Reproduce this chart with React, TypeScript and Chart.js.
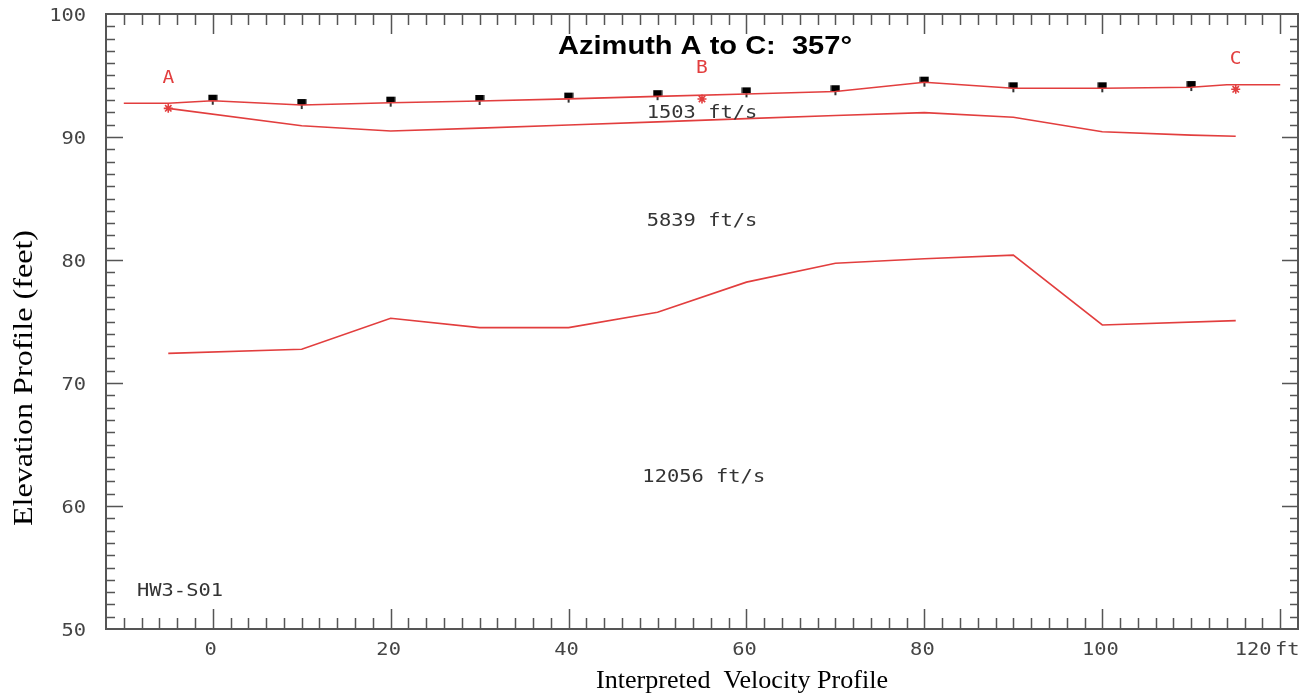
import React, { useEffect, useRef } from 'react';
import { Chart, registerables } from 'chart.js';

Chart.register(...registerables);

// ---------- axes ----------
const X_MIN = -12;
const X_MAX = 122;
const Y_MIN = 50;
const Y_MAX = 100;
const X_TICK_VALUES = [0, 20, 40, 60, 80, 100, 120];
const X_TICK_LABELS = ['0', '20', '40', '60', '80', '100', '120'];
const Y_TICK_VALUES = [50, 60, 70, 80, 90, 100];
const Y_TICK_LABELS = ['50', '60', '70', '80', '90', '100'];
const X_UNIT = 'ft';

// ---------- series ----------
// ground surface
const SURFACE_X = [-10, -5, 0, 10, 20, 30, 40, 50, 60, 70, 80, 90, 100, 110, 114, 120];
const SURFACE_Y = [92.74, 92.74, 92.95, 92.6, 92.79, 92.93, 93.1, 93.3, 93.5, 93.7, 94.45, 93.96, 93.96, 94.04, 94.25, 94.25];

// first refractor (1503 / 5839 ft/s boundary)
const REFR1_X = [-5, 10, 20, 30, 40, 50, 60, 70, 80, 90, 100, 110, 115];
const REFR1_Y = [92.33, 90.92, 90.49, 90.72, 90.98, 91.23, 91.49, 91.75, 91.98, 91.6, 90.43, 90.15, 90.06];

// second refractor (5839 / 12056 ft/s boundary)
const REFR2_X = [-5, 10, 20, 30, 40, 50, 60, 70, 80, 90, 100, 115];
const REFR2_Y = [72.41, 72.74, 75.26, 74.5, 74.5, 75.75, 78.2, 79.73, 80.1, 80.4, 74.72, 75.07];

// geophones
const GEOPHONE_X = [0, 10, 20, 30, 40, 50, 60, 70, 80, 90, 100, 110];
const GEOPHONE_Y = [92.95, 92.6, 92.79, 92.93, 93.12, 93.32, 93.55, 93.72, 94.42, 93.96, 93.96, 94.06];

// shot points
const SHOT_X = [-5, 55, 115];
const SHOT_Y = [92.33, 93.09, 93.88];
const SHOT_LABELS = ['A', 'B', 'C'];

// layer velocity labels (text anchored in data coordinates)
const LAYER_LABELS = ['1503 ft/s', '5839 ft/s', '12056 ft/s'];
const LAYER_LABEL_X = [55, 55, 55.2];
const LAYER_LABEL_Y = [91.87, 83.1, 62.35];

const TITLE = 'Azimuth A to C:  357°';
const X_TITLE = 'Interpreted  Velocity Profile';
const Y_TITLE = 'Elevation Profile (feet)';
const LINE_ID = 'HW3-S01';

const RED = 'rgb(226, 62, 62)';
const AXIS = '#555555';
const PLOT_FONT = '"DejaVu Sans Mono", monospace';

const pts = (xs: number[], ys: number[]) => xs.map((x, i) => ({ x, y: ys[i] }));

function drawText(
  ctx: CanvasRenderingContext2D,
  text: string,
  x: number,
  y: number,
  font: string,
  color: string,
  align: CanvasTextAlign,
  sx: number,
  baseline: CanvasTextBaseline = 'middle',
  rotate = false,
  targetWidth = 0
) {
  ctx.save();
  ctx.font = font;
  ctx.fillStyle = color;
  ctx.textAlign = align;
  ctx.textBaseline = baseline;
  ctx.translate(x, y);
  if (rotate) ctx.rotate(-Math.PI / 2);
  let s = sx;
  if (targetWidth > 0) s = targetWidth / ctx.measureText(text).width;
  ctx.scale(s, 1);
  ctx.fillText(text, 0, 0);
  ctx.restore();
}

const decorPlugin = {
  id: 'decor',
  beforeDatasetsDraw(chart: any) {
    const ctx: CanvasRenderingContext2D = chart.ctx;
    const { left, right, top, bottom } = chart.chartArea;
    const xs = chart.scales.x;
    const ys = chart.scales.y;
    ctx.save();
    ctx.strokeStyle = AXIS;
    ctx.lineWidth = 1.5;
    ctx.beginPath();
    // x ticks: minor every 2, major every 20 (top & bottom, inward)
    for (let v = -10; v <= 120; v += 2) {
      const px = Math.round(xs.getPixelForValue(v)) + 0.5;
      const major = v % 20 === 0;
      const len = major ? 20 : 11;
      ctx.moveTo(px, bottom);
      ctx.lineTo(px, bottom - len);
      ctx.moveTo(px, top);
      ctx.lineTo(px, top + len);
    }
    // y ticks: minor every 1, major every 10 (left & right, inward)
    for (let v = 51; v <= 99; v += 1) {
      const py = Math.round(ys.getPixelForValue(v)) + 0.5;
      const major = v % 10 === 0;
      ctx.moveTo(left, py);
      ctx.lineTo(left + (major ? 17 : 9), py);
      ctx.moveTo(right, py);
      ctx.lineTo(right - (major ? 16 : 8), py);
    }
    ctx.stroke();
    ctx.lineWidth = 2;
    ctx.strokeRect(left, top, right - left, bottom - top);
    ctx.restore();
  },
  afterDatasetsDraw(chart: any) {
    const ctx: CanvasRenderingContext2D = chart.ctx;
    const { left, bottom } = chart.chartArea;
    const xs = chart.scales.x;
    const ys = chart.scales.y;
    const tickFont = `17px ${PLOT_FONT}`;
    // x tick labels
    X_TICK_VALUES.forEach((v, i) => {
      const last = i === X_TICK_VALUES.length - 1;
      const px = xs.getPixelForValue(v) - (last ? 27 : 2);
      drawText(ctx, X_TICK_LABELS[i], px, bottom + 22, tickFont, '#444', 'center', 1.2);
    });
    drawText(ctx, X_UNIT, xs.getPixelForValue(120) + 7, bottom + 22, tickFont, '#444', 'center', 1.2);
    // y tick labels
    Y_TICK_VALUES.forEach((v, i) => {
      const py = ys.getPixelForValue(v) + 3;
      drawText(ctx, Y_TICK_LABELS[i], left - 20, py, tickFont, '#444', 'right', 1.2);
    });
    // shot labels
    SHOT_X.forEach((v, i) => {
      const px = xs.getPixelForValue(v);
      const py = ys.getPixelForValue(SHOT_Y[i]) - 30;
      drawText(ctx, SHOT_LABELS[i], px, py, `17px ${PLOT_FONT}`, RED, 'center', 1.15);
    });
    // layer velocities
    LAYER_LABELS.forEach((t, i) => {
      drawText(
        ctx,
        t,
        xs.getPixelForValue(LAYER_LABEL_X[i]),
        ys.getPixelForValue(LAYER_LABEL_Y[i]),
        tickFont,
        '#333',
        'center',
        1.2
      );
    });
    // line id
    drawText(ctx, LINE_ID, left + 31, ys.getPixelForValue(53.05), tickFont, '#333', 'left', 1.2);
    // title
    drawText(ctx, TITLE, 705, 47, 'bold 25px "Liberation Sans", Arial, sans-serif', '#000', 'center', 1, 'middle', false, 294);
    // axis titles
    drawText(ctx, X_TITLE, 742, 688, '26px "Liberation Serif", "Times New Roman", serif', '#000', 'center', 1, 'alphabetic', false, 292);
    drawText(ctx, Y_TITLE, 32, 378, '27px "Liberation Serif", "Times New Roman", serif', '#000', 'center', 1, 'alphabetic', true, 296);
  },
};

export default function App() {
  const canvasRef = useRef<HTMLCanvasElement | null>(null);

  useEffect(() => {
    document.body.style.margin = '0';
    document.body.style.overflow = 'hidden';
    const canvas = canvasRef.current;
    if (!canvas) return;

    // geophone marker: filled square with a short stem below
    const geo = document.createElement('canvas');
    geo.width = 10;
    geo.height = 20;
    const g = geo.getContext('2d')!;
    g.fillStyle = '#000';
    g.fillRect(0.5, 4, 9, 6);
    g.fillRect(4.2, 10, 1.6, 4);

    const chart = new Chart(canvas, {
      type: 'scatter',
      data: {
        datasets: [
          {
            data: pts(SURFACE_X, SURFACE_Y),
            showLine: true,
            borderColor: RED,
            borderWidth: 1.6,
            pointRadius: 0,
          },
          {
            data: pts(REFR1_X, REFR1_Y),
            showLine: true,
            borderColor: RED,
            borderWidth: 1.6,
            pointRadius: 0,
          },
          {
            data: pts(REFR2_X, REFR2_Y),
            showLine: true,
            borderColor: RED,
            borderWidth: 1.6,
            pointRadius: 0,
          },
          {
            data: pts(GEOPHONE_X, GEOPHONE_Y),
            showLine: false,
            pointStyle: geo as any,
            pointRadius: 5,
          },
          {
            data: pts(SHOT_X, SHOT_Y),
            showLine: false,
            pointStyle: 'star',
            pointRadius: 4.5,
            borderColor: RED,
            backgroundColor: RED,
            borderWidth: 1.6,
          },
        ] as any,
      },
      options: {
        responsive: false,
        animation: false,
        devicePixelRatio: 1,
        events: [],
        layout: { padding: { left: 106, top: 14, right: 12, bottom: 67 } },
        scales: {
          x: { type: 'linear', min: X_MIN, max: X_MAX, display: false },
          y: { type: 'linear', min: Y_MIN, max: Y_MAX, display: false },
        },
        plugins: {
          legend: { display: false },
          tooltip: { enabled: false },
        },
      },
      plugins: [decorPlugin],
    });
    return () => chart.destroy();
  }, []);

  return (
    <div style={{ position: 'absolute', left: 0, top: 0, width: 1310, height: 696, background: '#fff' }}>
      <canvas ref={canvasRef} width={1310} height={696} />
    </div>
  );
}
